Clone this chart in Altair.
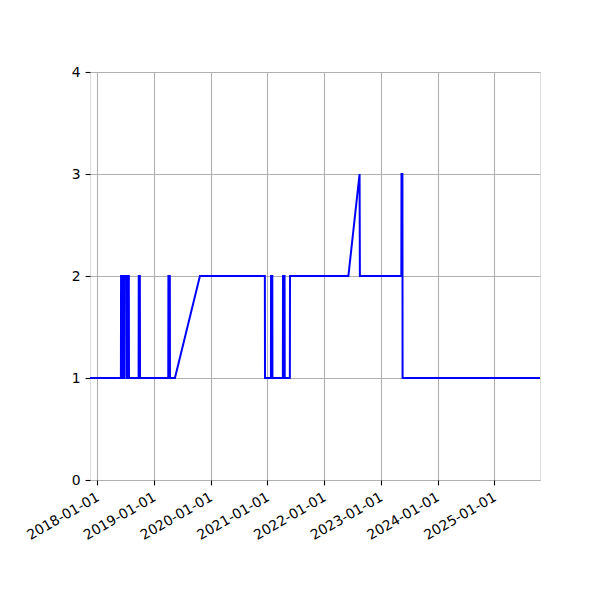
import altair as alt
import pandas as pd

dates = [
    "2017-11-15", "2018-06-02", "2018-06-03", "2018-06-08", "2018-06-09",
    "2018-06-11", "2018-06-12", "2018-06-22", "2018-06-23", "2018-06-26",
    "2018-06-27", "2018-07-10", "2018-07-11", "2018-07-13", "2018-07-14",
    "2018-07-23", "2018-07-24", "2018-09-24", "2018-09-25", "2018-10-02",
    "2018-10-03", "2019-04-03", "2019-04-04", "2019-04-13", "2019-04-14",
    "2019-05-16", "2019-10-24", "2020-12-15", "2020-12-16", "2021-01-23",
    "2021-01-24", "2021-02-01", "2021-02-02", "2021-04-10", "2021-04-11",
    "2021-04-21", "2021-04-22", "2021-05-25", "2021-05-26", "2022-06-06",
    "2022-08-17", "2022-08-19", "2023-05-13", "2023-05-14", "2023-05-20",
    "2023-05-21", "2025-10-22",
]
values = [
    1, 1, 2, 2, 1,
    1, 2, 2, 1, 1,
    2, 2, 1, 1, 2,
    2, 1, 1, 2, 2,
    1, 1, 2, 2, 1,
    1, 2, 2, 1, 1,
    2, 2, 1, 1, 2,
    2, 1, 1, 2, 2,
    3, 2, 2, 3, 3,
    1, 1,
]
tick_years = [2018, 2019, 2020, 2021, 2022, 2023, 2024, 2025]
y_ticks = [0, 1, 2, 3, 4]

df = pd.DataFrame({"date": dates, "value": values, "idx": list(range(len(dates)))})

font = "DejaVu Sans"
fs = 13.9

chart = (
    alt.Chart(df)
    .mark_line(color="#0000ff", strokeWidth=2.0, clip=True)
    .encode(
        x=alt.X(
            "date:T",
            scale=alt.Scale(
                type="utc",
                domain=[
                    alt.DateTime(year=2017, month=11, date=15, utc=True),
                    alt.DateTime(year=2025, month=10, date=22, utc=True),
                ],
                nice=False,
            ),
            axis=alt.Axis(
                title=None,
                values=[alt.DateTime(year=y, month=1, date=1, utc=True) for y in tick_years],
                labelExpr="utcFormat(datum.value, '%Y-%m-%d')",
                labelAngle=330,
                labelAlign="right",
                labelBaseline="top",
                labelPadding=5,
                labelOffset=-3,
                grid=True,
                gridColor="#b0b0b0",
                gridWidth=1.1,
                tickColor="black",
                tickSize=4.9,
                tickWidth=1.1,
                domain=False,
                labelColor="black",
                labelFont=font,
                labelFontSize=fs,
                labelOverlap=False,
                labelFlush=False,
                labelBound=False,
            ),
        ),
        y=alt.Y(
            "value:Q",
            scale=alt.Scale(domain=[0, 4], nice=False, zero=False),
            axis=alt.Axis(
                title=None,
                values=y_ticks,
                format="d",
                grid=True,
                gridColor="#b0b0b0",
                gridWidth=1.1,
                tickColor="black",
                tickSize=4.9,
                tickWidth=1.1,
                domain=False,
                labelColor="black",
                labelFont=font,
                labelFontSize=fs,
                labelPadding=4.9,
                labelFlush=False,
            ),
        ),
        order="idx:Q",
    )
    .properties(
        width=450,
        height=408,
        autosize=alt.AutoSizeParams(type="none"),
        padding={"left": 82, "top": 64, "right": 52, "bottom": 112},
    )
    .configure_view(stroke="black", strokeWidth=1.1)
    .configure(background="white")
)

chart.save("out.html", embed_options={"renderer": "svg", "actions": False})
